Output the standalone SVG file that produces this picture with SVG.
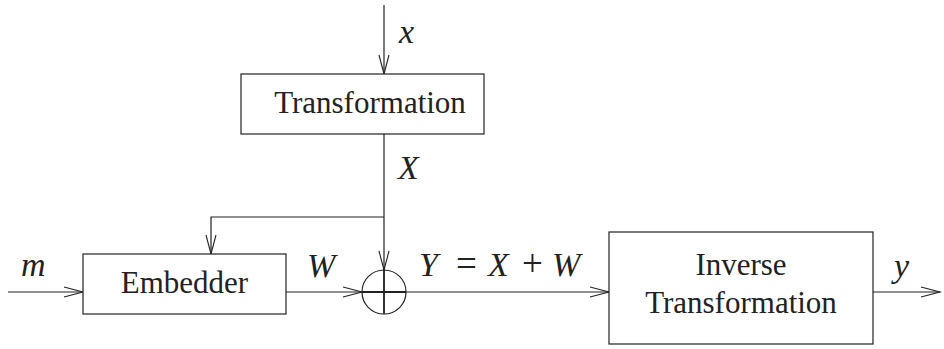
<svg xmlns="http://www.w3.org/2000/svg" width="944" height="349" viewBox="0 0 944 349">
<style>
.box{fill:#fff;stroke:#222;stroke-width:1.2}
.ln{fill:none;stroke:#222;stroke-width:1.2}
.ah{fill:none;stroke:#222;stroke-width:1.1}
.lbl{font-family:"Liberation Serif",serif;font-size:31px;fill:#222}
.math{font-family:"Liberation Serif",serif;font-size:34px;font-style:italic;fill:#222}
.op{font-style:normal;font-size:37px}
</style>
<rect width="944" height="349" fill="#fff"/>
<g id="connectors">
  <path class="ln" d="M384,5 V74"/>
  <path class="ah" d="M379,55 L384,74 L389,55"/>
  <path class="ln" d="M384,134 V314"/>
  <path class="ln" d="M384,217 H211 V254"/>
  <path class="ah" d="M206,235 L211,254 L216,235"/>
  <path class="ah" d="M379,251 L384,270 L389,251"/>
  <path class="ln" d="M8,292 H83"/>
  <path class="ah" d="M64,287 L83,292 L64,297"/>
  <path class="ln" d="M286,292 H362"/>
  <path class="ah" d="M343,287 L362,292 L343,297"/>
  <path class="ln" d="M406,292 H609"/>
  <path class="ah" d="M590,287 L609,292 L590,297"/>
  <path class="ln" d="M873,292 H940"/>
  <path class="ah" d="M921,287 L940,292 L921,297"/>
</g>
<g id="transformation">
  <rect class="box" x="241" y="74" width="243" height="60"/>
  <text class="lbl" x="370" y="113" text-anchor="middle">Transformation</text>
</g>
<g id="embedder">
  <rect class="box" x="83" y="254" width="203" height="60"/>
  <text class="lbl" x="184.5" y="293" text-anchor="middle">Embedder</text>
</g>
<g id="adder">
  <circle cx="384" cy="292" r="22" fill="none" stroke="#222" stroke-width="1.2"/>
  <path d="M362,292 H406" stroke="#222" stroke-width="2.2"/>
  <path d="M384,270 V314" stroke="#222" stroke-width="1.6"/>
</g>
<g id="inverse">
  <rect class="box" x="609" y="232" width="264" height="112"/>
  <text class="lbl" x="741" y="275" text-anchor="middle">Inverse</text>
  <text class="lbl" x="741" y="313" text-anchor="middle">Transformation</text>
</g>
<g id="labels">
  <text class="math" x="399" y="43">x</text>
  <text class="math" x="398" y="179">X</text>
  <text class="math" x="21" y="276">m</text>
  <text class="math" x="307" y="277">W</text>
  <text class="math" y="276"><tspan x="419">Y</tspan><tspan class="op" x="456">=</tspan><tspan x="488">X</tspan><tspan class="op" x="522">+</tspan><tspan x="552">W</tspan></text>
  <text class="math" x="894" y="277">y</text>
</g>
</svg>
